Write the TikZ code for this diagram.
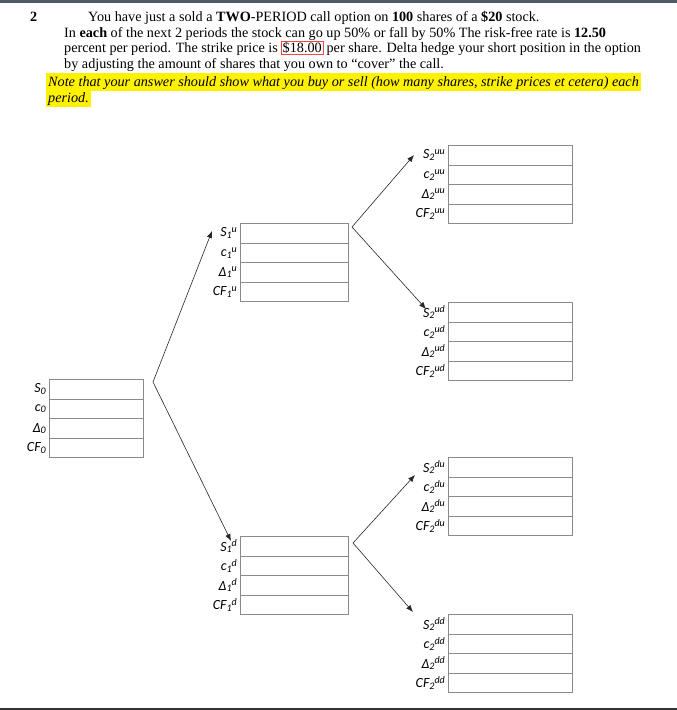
\documentclass[tikz,border=0pt]{standalone}
\usepackage{fontspec}
\setmainfont{Liberation Serif}
\newfontfamily\labfont{Carlito}
\usetikzlibrary{arrows.meta}
\definecolor{barslate}{HTML}{4E5A66}
\definecolor{cellgray}{HTML}{8A8A8A}
\newcommand\labsub[1]{\raisebox{-1.5pt}{\fontsize{10}{10}\selectfont #1}}
\newcommand\labsup[1]{\raisebox{4.5pt}{\fontsize{10}{10}\selectfont #1}}
\tikzset{
  cell/.style={draw=cellgray, line width=0.6pt, minimum height=19.6pt, inner sep=0pt},
  lab/.style={font=\labfont\itshape\fontsize{14}{14}\selectfont, inner xsep=3pt, inner ysep=1.5pt},
  hdr/.style={font=\fontsize{14.2}{16}\selectfont, inner sep=0pt, anchor=base west},
  note/.style={hdr, fill=yellow, inner xsep=2pt, inner ysep=1pt, text height=12pt, text depth=3.6pt},
  branch/.style={draw=black!85, line width=0.6pt,
    {Latex[length=7pt,width=5.5pt]}-{Latex[length=7pt,width=5.5pt]}},
}
\setlength{\fboxsep}{0.8pt}
\setlength{\fboxrule}{0.5pt}
\begin{document}
\begin{tikzpicture}[x=1pt,y=-1pt]
  \useasboundingbox (0,0) rectangle (677,710);
  % page rules
  \fill[barslate] (0,0) rectangle (677,3);
  \fill[black!80] (0,708) rectangle (677,710);
  % question text
  \node[hdr] (qnum) at (30,21) {\textbf{2}};
  \node[hdr] (line1) at (88,21) {You have just a sold a \textbf{TWO}-PERIOD call option on \textbf{100} shares of a \textbf{\$20} stock.};
  \node[hdr] (line2) at (64,37) {In \textbf{each} of the next 2 periods the stock can go up 50\% or fall by 50\% The risk-free rate is \textbf{12.50}};
  \node[hdr] (line3) at (64,52.5) {percent per period. The strike price is \fcolorbox{red!75}{white}{\$18.00} per share. Delta hedge your short position in the option};
  \node[hdr] (line4) at (64,68) {by adjusting the amount of shares that you own to “cover” the call.};
  \node[note] (note1) at (46,86) {\itshape Note that your answer should show what you buy or sell (how many shares, strike prices et cetera) each};
  \node[note] (note2) at (46,102) {\itshape period.};
  % tree boxes: name/x/y/width/period/path
  \foreach \nm/\x/\y/\w/\t/\s in {0/49/379/94/0/{},1u/240/223/108/1/u,1d/240/536/108/1/d,
      2uu/448/145/124/2/uu,2ud/448/302/124/2/ud,2du/448/457/124/2/du,2dd/448/614/124/2/dd}{
    \foreach \q [count=\r] in {S,c,Δ,CF}{
      \node[cell, minimum width=\w pt, anchor=north west] (\nm-\r) at (\x,\y+19.6*\r-19.6) {};
      \node[lab, anchor=east] (\nm-l\r) at (\nm-\r.west) {\q\labsub{\t}\labsup{\s}};
    }
  }
  % branch points and arrow tips
  \coordinate (v0) at (153,382);
  \coordinate (t1u) at (212,231);
  \coordinate (t1d) at (231,541);
  \coordinate (v1u) at (352,227);
  \coordinate (t2uu) at (414,155);
  \coordinate (t2ud) at (426,309);
  \coordinate (v1d) at (353,543);
  \coordinate (t2du) at (415,475);
  \coordinate (t2dd) at (413,612);
  \draw[branch] (t1u) -- (v0) -- (t1d);
  \draw[branch] (t2uu) -- (v1u) -- (t2ud);
  \draw[branch] (t2du) -- (v1d) -- (t2dd);
\end{tikzpicture}
\end{document}
